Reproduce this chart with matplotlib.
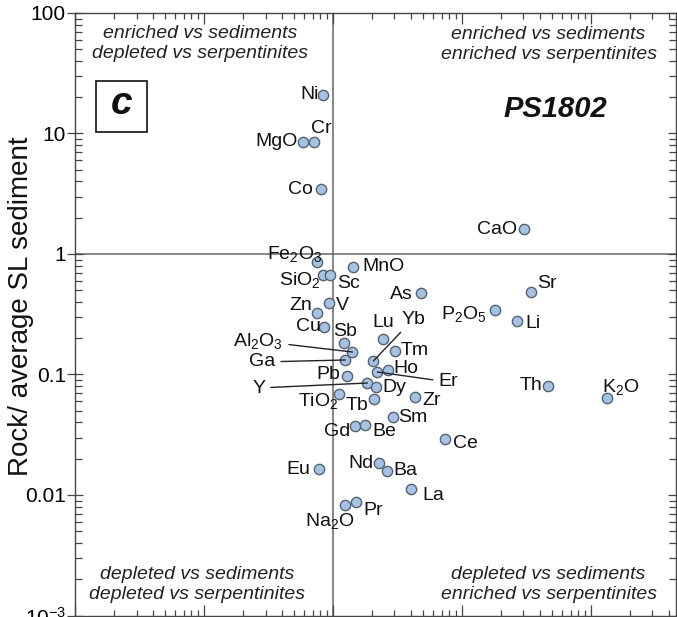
import numpy as np
import matplotlib
matplotlib.use("Agg")
import matplotlib.pyplot as plt
from matplotlib.patches import Rectangle

plt.rcParams['font.family'] = ['Liberation Sans', 'DejaVu Sans']
plt.rcParams['mathtext.fontset'] = 'custom'
plt.rcParams['mathtext.rm'] = 'Liberation Sans'
plt.rcParams['mathtext.it'] = 'Liberation Sans:italic'
plt.rcParams['mathtext.bf'] = 'Liberation Sans:bold'

# element / oxide labels
names = ['Ni', 'Cr', 'MgO', 'Co', 'Fe$_2$O$_3$', 'SiO$_2$', 'Sc', 'MnO', 'V', 'Zn',
         'Cu', 'Sb', 'Al$_2$O$_3$', 'Ga', 'Pb', 'Y', 'Dy', 'TiO$_2$', 'Tb', 'Lu',
         'Yb', 'Tm', 'Ho', 'Er', 'Zr', 'Sm', 'Gd', 'Be', 'Ce', 'Nd',
         'Ba', 'La', 'Na$_2$O', 'Pr', 'Eu', 'Th', 'K$_2$O', 'Li', 'P$_2$O$_5$', 'As',
         'Sr', 'CaO']
# rock / average serpentinite
vs_serp = [0.83, 0.707, 0.591, 0.815, 0.759, 0.844, 0.956, 1.44, 0.94, 0.759,
           0.86, 1.227, 1.415, 1.25, 1.295, 1.848, 2.17, 1.123, 2.094, 2.46,
           2.057, 3.04, 2.687, 2.21, 4.35, 2.94, 1.493, 1.784, 7.42, 2.29,
           2.64, 4.05, 1.25, 1.52, 0.786, 46.4, 132.7, 26.7, 18.06, 4.84,
           34.3, 30.3]
# rock / average SL sediment
vs_sed = [20.9, 8.5, 8.5, 3.46, 0.858, 0.669, 0.669, 0.78, 0.392, 0.324,
          0.248, 0.1826, 0.1537, 0.132, 0.0972, 0.085, 0.0787, 0.0689, 0.0626, 0.197,
          0.1294, 0.1567, 0.109, 0.1049, 0.065, 0.0444, 0.0374, 0.0381, 0.0292, 0.0184,
          0.0158, 0.0112, 0.00826, 0.00875, 0.0164, 0.0803, 0.0638, 0.278, 0.343, 0.475,
          0.484, 1.61]

# label placement (offset in pixels, alignment)
place = {
    'Ni': (-4, 0, 'right'), 'Cr': (-3, 14, 'left'), 'MgO': (-6, 1, 'right'),
    'Co': (-9, 0, 'right'), 'Fe$_2$O$_3$': (5, 8, 'right'), 'SiO$_2$': (-3, -5, 'right'),
    'Sc': (7, -8, 'left'), 'MnO': (9, 1, 'left'), 'V': (6, -2, 'left'),
    'Zn': (-5, 7, 'right'), 'Cu': (-4, 0, 'right'), 'Sb': (1, 11, 'center'),
    'Al$_2$O$_3$': (-69, 11, 'right'), 'Ga': (-70, -2, 'right'), 'Pb': (-7, 1, 'right'),
    'Y': (-102, -5, 'right'), 'Dy': (6, 0, 'left'), 'TiO$_2$': (-1, -7, 'right'),
    'Tb': (-6, -6, 'right'), 'Lu': (0, 17, 'center'), 'Yb': (40, 42, 'center'),
    'Tm': (5, 0, 'left'), 'Ho': (5, 1, 'left'), 'Er': (61, -10, 'left'),
    'Zr': (7, -3, 'left'), 'Sm': (5, -1, 'left'), 'Gd': (-5, -6, 'right'),
    'Be': (7, -7, 'left'), 'Ce': (8, -5, 'left'), 'Nd': (-6, 0, 'right'),
    'Ba': (6, 1, 'left'), 'La': (11, -6, 'left'), 'Na$_2$O': (-16, -16, 'center'),
    'Pr': (7, -9, 'left'), 'Eu': (-9, 0, 'right'), 'Th': (-5, 0, 'right'),
    'K$_2$O': (-5, 11, 'left'), 'Li': (8, -3, 'left'), 'P$_2$O$_5$': (-8, -4, 'right'),
    'As': (-8, -2, 'right'), 'Sr': (6, 8, 'left'), 'CaO': (-7, 0, 'right'),
}
leaders = ['Al$_2$O$_3$', 'Ga', 'Y', 'Yb', 'Er']

fig = plt.figure(figsize=(6.77, 6.17), dpi=100)
ax = fig.add_axes([75 / 677, 1.5 / 617, 601 / 677, 602.5 / 617])
ax.set_xscale('log')
ax.set_yscale('log')
ax.set_xlim(0.01, 10 ** 2.66)
ax.set_ylim(1e-3, 100)

ax.axhline(1, color='#666666', lw=1.1, zorder=1)
ax.axvline(1, color='#666666', lw=1.1, zorder=1)

ax.scatter(vs_serp, vs_sed, s=55, facecolor='#a4c2e4', edgecolor='#56626f',
           linewidth=1.0, zorder=3)

for n, xv, yv in zip(names, vs_serp, vs_sed):
    dx, dy, ha = place[n]
    if n in leaders:
        ax.annotate(n, (xv, yv), xytext=(dx, dy), textcoords='offset pixels',
                    ha=ha, va='center', fontsize=14, color='#111111',
                    arrowprops=dict(arrowstyle='-', color='#222222', lw=1,
                                    shrinkA=2, shrinkB=0), zorder=4)
    else:
        ax.annotate(n, (xv, yv), xytext=(dx, dy), textcoords='offset pixels',
                    ha=ha, va='center', fontsize=14, color='#111111', zorder=4)

ax.set_yticks([100, 10, 1, 0.1, 0.01, 0.001])
ax.set_yticklabels(['100', '10', '1', '0.1', '0.01', r'$10^{-3}$'], fontsize=15)
ax.set_xticklabels([])
ax.tick_params(axis='x', which='both', direction='in', top=True, bottom=True,
               labelbottom=False)
ax.tick_params(axis='x', which='major', length=8)
ax.tick_params(axis='x', which='minor', length=4)
ax.tick_params(axis='y', which='major', direction='inout', length=11, pad=1,
               left=True, right=True)
ax.tick_params(axis='y', which='minor', direction='in', length=5,
               left=True, right=True)
ax.tick_params(which='both', color='#444444', width=0.9)
for s in ax.spines.values():
    s.set_color('#444444')
    s.set_linewidth(1.0)

fig.text(21 / 677, 1 - 306 / 617, 'Rock/ average SL sediment', rotation=90,
         ha='center', va='center', fontsize=20, color='#111111')

qkw = dict(transform=ax.transAxes, ha='center', va='center', fontsize=14,
           style='italic', color='#222222', linespacing=1.25)
ax.text(0.208, 0.95, 'enriched vs sediments\ndepleted vs serpentinites', **qkw)
ax.text(0.788, 0.948, 'enriched vs sediments\nenriched vs serpentinites', **qkw)
ax.text(0.203, 0.052, 'depleted vs sediments\ndepleted vs serpentinites', **qkw)
ax.text(0.788, 0.052, 'depleted vs sediments\nenriched vs serpentinites', **qkw)

ax.text(0.80, 0.84, 'PS1802', transform=ax.transAxes, ha='center', va='center',
        fontsize=21, style='italic', fontweight='bold', color='#111111')

fig.add_artist(Rectangle((96 / 677, 1 - 132 / 617), 51 / 677, 51 / 617,
                         transform=fig.transFigure, fill=False,
                         edgecolor='#111111', lw=1.2))
fig.text(121.5 / 677, 1 - 104 / 617, 'c', ha='center', va='center', fontsize=28,
         style='italic', fontweight='bold', color='#111111')

fig.savefig('out.png', dpi=100)
